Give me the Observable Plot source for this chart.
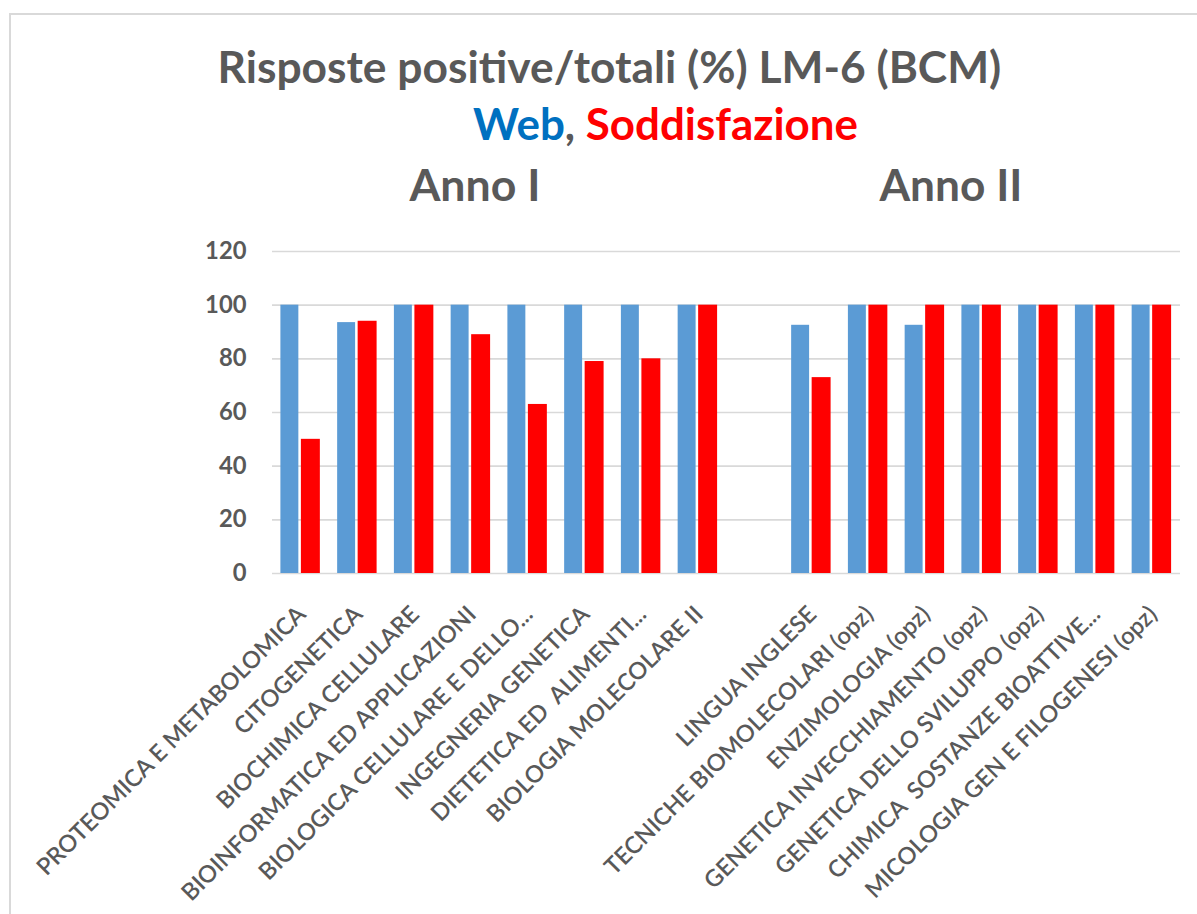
<!DOCTYPE html>
<html>
<head>
<meta charset="utf-8">
<script src="https://cdn.jsdelivr.net/npm/d3@7"></script>
<script src="https://cdn.jsdelivr.net/npm/@observablehq/plot@0.6"></script>
<style>
  body { margin: 0; background: #fff; }
  #wrap { position: relative; width: 1197px; height: 914px; overflow: hidden; font-family: Lato, "Open Sans", sans-serif; background: #fff; }
  #frame { position: absolute; left: 9px; top: 13px; width: 1300px; height: 1000px; border-left: 2.5px solid #D9D9D9; border-top: 2.5px solid #D9D9D9; }
  .t { position: absolute; white-space: pre; font-weight: 700; color: #595959; line-height: normal; }
  .bl { display: inline-block; width: 0; height: 0; }
  #chart { position: absolute; left: 0; top: 220px; }
  #chart text { white-space: pre; }
</style>
</head>
<body>
<div id="wrap">
  <div id="frame"></div>
  <div id="title" class="t">Risposte positive/totali (%) LM-6 (BCM)<span class="bl"></span></div>
  <div id="sub" class="t"><span style="color:#0070C0">Web</span>, <span style="color:#FF0000">Soddisfazione</span><span class="bl"></span></div>
  <div id="a1" class="t">Anno I<span class="bl"></span></div>
  <div id="a2" class="t">Anno II<span class="bl"></span></div>
  <div id="chart"></div>
</div>
<script>
// ---- Data ----
const annoI = [
  "PROTEOMICA E METABOLOMICA",
  "CITOGENETICA",
  "BIOCHIMICA CELLULARE",
  "BIOINFORMATICA ED APPLICAZIONI",
  "BIOLOGICA CELLULARE E DELLO...",
  "INGEGNERIA GENETICA",
  "DIETETICA ED  ALIMENTI...",
  "BIOLOGIA MOLECOLARE II"
];
const webI  = [100, 93.5, 100, 100, 100, 100, 100, 100];
const soddI = [50, 94, 100, 89, 63, 79, 80, 100];

const annoII = [
  "LINGUA INGLESE",
  "TECNICHE BIOMOLECOLARI (opz)",
  "ENZIMOLOGIA (opz)",
  "GENETICA INVECCHIAMENTO (opz)",
  "GENETICA DELLO SVILUPPO (opz)",
  "CHIMICA  SOSTANZE BIOATTIVE...",
  "MICOLOGIA GEN E FILOGENESI (opz)"
];
const webII  = [92.5, 100, 92.5, 100, 100, 100, 100];
const soddII = [73, 100, 100, 100, 100, 100, 100];

const yTicks = [0, 20, 40, 60, 80, 100, 120];
const seriesNames = ["Web", "Soddisfazione"];

// ---- Build table ----
const spacer = "";
const domain = [...annoI, spacer, ...annoII];
const rows = [];
annoI.forEach((c, i) => { rows.push({cat: c, serie: seriesNames[0], value: webI[i]}); rows.push({cat: c, serie: seriesNames[1], value: soddI[i]}); });
annoII.forEach((c, i) => { rows.push({cat: c, serie: seriesNames[0], value: webII[i]}); rows.push({cat: c, serie: seriesNames[1], value: soddII[i]}); });
const labels = [...annoI, ...annoII].map(c => ({cat: c}));

// ---- Font fitting helpers ----
const FAM = "Lato";
const cv = document.createElement("canvas").getContext("2d");
function inkMetrics(text, weight) {
  cv.font = `${weight} 100px ${FAM}`;
  const m = cv.measureText(text);
  return {ink: m.actualBoundingBoxLeft + m.actualBoundingBoxRight, abl: m.actualBoundingBoxLeft};
}
function place(id, left, right, baseline, weight) {
  const el = document.getElementById(id);
  const mm = inkMetrics(el.textContent, weight);
  const fs = 100 * (right - left) / mm.ink;
  el.style.fontSize = fs + "px";
  el.style.left = (left + mm.abl * fs / 100) + "px";
  el.style.top = "0px";
  const mk = el.querySelector(".bl");
  const b = mk.getBoundingClientRect().bottom - el.getBoundingClientRect().top;
  el.style.top = (baseline - b) + "px";
}
place("title", 221, 1000, 83, 700);
place("sub", 473, 857, 140, 700);
place("a1", 409, 537, 201, 700);
place("a2", 879, 1019, 201, 700);

const LABW = 600;
const tickFs = 100 * 39.5 / inkMetrics("120", 700).ink;
const labFs = 100 * 368 / inkMetrics("PROTEOMICA E METABOLOMICA", LABW).ink;

// ---- Chart ----
const chart = Plot.plot({
  width: 1197,
  height: 694,
  marginLeft: 272,
  marginRight: 17,
  marginTop: 31,
  marginBottom: 341,
  style: {fontFamily: "Lato, 'Open Sans', sans-serif", background: "transparent", overflow: "visible"},
  x: {type: "band", domain, padding: 0, round: false, axis: null},
  y: {domain: [0, 120], axis: null},
  marks: [
    Plot.gridY(yTicks, {stroke: "#D9D9D9", strokeOpacity: 1, strokeWidth: 1.6}),
    Plot.axisY({ticks: yTicks, tickSize: 0, tickPadding: 26, label: null, color: "#595959", fontSize: tickFs, fontWeight: 700}),
    Plot.barY(rows.filter(d => d.serie === "Web"), {x: "cat", y: "value", fill: "#5B9BD5", insetLeft: 8.4, insetRight: 30.4, ariaLabel: "web-bar"}),
    Plot.barY(rows.filter(d => d.serie === "Soddisfazione"), {x: "cat", y: "value", fill: "#FF0000", insetLeft: 28.9, insetRight: 8.9, ariaLabel: "sodd-bar"}),
    Plot.text(labels, {x: "cat", text: "cat", frameAnchor: "bottom", rotate: -45, textAnchor: "end", lineAnchor: "middle", dx: 1, dy: 37, fill: "#595959", fontSize: labFs, fontWeight: LABW})
  ]
});
document.getElementById("chart").appendChild(chart);

// gradient + soft shadow for bars
chart.insertAdjacentHTML("afterbegin",
  '<defs>' +
  '<linearGradient id="webGrad" x1="0" y1="0" x2="0" y2="1">' +
  '<stop offset="0" stop-color="#74A8DE"/><stop offset="0.5" stop-color="#5B9AD7"/><stop offset="1" stop-color="#4182C4"/>' +
  '</linearGradient>' +
  '<filter id="sh" x="-30%" y="-5%" width="160%" height="110%">' +
  '<feDropShadow dx="0.6" dy="0.6" stdDeviation="1.1" flood-color="#000" flood-opacity="0.35"/>' +
  '</filter>' +
  '</defs>');
chart.querySelectorAll('g[aria-label="web-bar"] rect').forEach(r => r.setAttribute("fill", "url(#webGrad)"));
chart.querySelectorAll('g[aria-label="web-bar"], g[aria-label="sodd-bar"]').forEach(g => g.setAttribute("filter", "url(#sh)"));
</script>
</body>
</html>
